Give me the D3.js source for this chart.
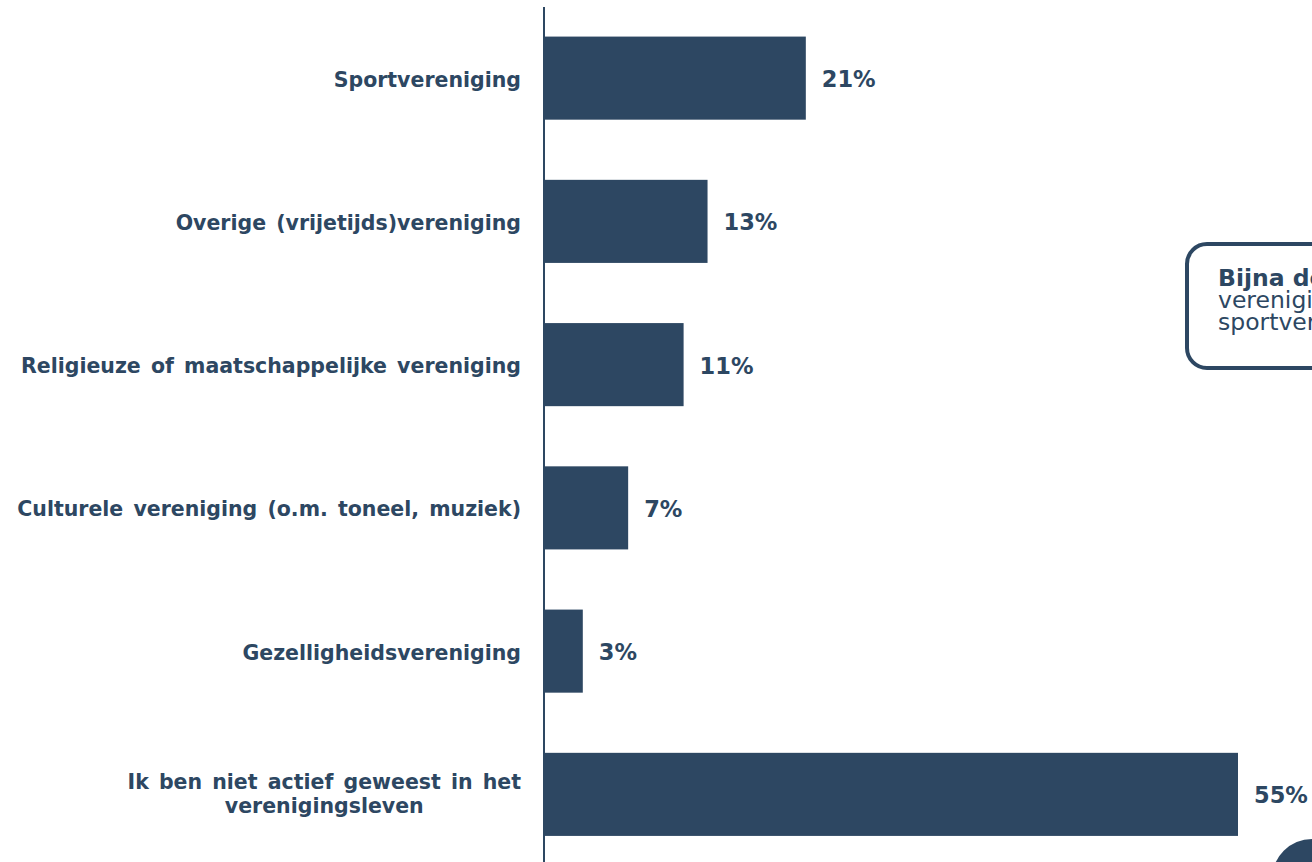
<!DOCTYPE html>
<html>
<head>
<meta charset="utf-8">
<script src="https://cdn.jsdelivr.net/npm/d3@7"></script>
<style>
  html, body { margin: 0; padding: 0; background: #fff; overflow: hidden; }
  svg { display: block; font-family: "DejaVu Sans", Verdana, sans-serif; }
</style>
</head>
<body>
<div id="chart"></div>
<script>
(function () {

    const categories = [
        'Sportvereniging',
        'Overige (vrijetijds)vereniging',
        'Religieuze of maatschappelijke vereniging',
        'Culturele vereniging (o.m. toneel, muziek)',
        'Gezelligheidsvereniging',
        'Ik ben niet actief geweest in het|verenigingsleven'
    ];
    const values = [20.7, 12.9, 11.0, 6.6, 3.0, 55.0];
    const valueLabels = ['21%', '13%', '11%', '7%', '3%', '55%'];
    const calloutBold = 'Bijna de helft';
    const calloutLines = ['verenigingsleven', 'sportvereniging'];

    const color = '#2d4762';
    const W = 1312, H = 862;
    const labelRight = 521;

    const chart = d3.select('#chart')
        .append('svg')
        .attr('width', W)
        .attr('height', H);

    // schalen
    const x = d3.scaleLinear()
        .domain([0, 55])
        .range([545, 1238]);

    const y = d3.scaleBand()
        .domain(categories)
        .range([6.5, 866])
        .paddingInner(0.42)
        .paddingOuter(0.21);

    // balken
    chart.append('g')
        .selectAll('rect')
        .data(values)
        .enter()
        .append('rect')
        .attr('x', x(0))
        .attr('y', (d, i) => y(categories[i]))
        .attr('width', d => x(d) - x(0))
        .attr('height', y.bandwidth())
        .attr('fill', color);

    // as
    chart.append('line')
        .attr('x1', 544).attr('x2', 544)
        .attr('y1', 7).attr('y2', H)
        .attr('stroke', color)
        .attr('stroke-width', 2);

    // categorie labels
    const labels = chart.append('g')
        .selectAll('text')
        .data(categories)
        .enter()
        .append('text')
        .attr('y', d => y(d) + y.bandwidth() / 2)
        .attr('fill', color)
        .style('font-size', '20.5px')
        .style('font-weight', 'bold')
        .style('word-spacing', '3px');

    labels.each(function (d) {
        const parts = d.split('|');
        const el = d3.select(this);
        if (parts.length === 1) {
            el.attr('text-anchor', 'end');
            el.append('tspan').attr('x', labelRight).attr('dy', '0.42em').text(parts[0]);
        } else {
            // twee regels, onderling gecentreerd
            el.attr('text-anchor', 'middle');
            const t1 = el.append('tspan').attr('dy', '-0.25em').text(parts[0]);
            const w = t1.node().getComputedTextLength();
            const cx = labelRight - w / 2;
            t1.attr('x', cx);
            el.append('tspan').attr('x', cx).attr('dy', '1.17em').text(parts[1]);
        }
    });

    // waarden
    chart.append('g')
        .selectAll('text')
        .data(values)
        .enter()
        .append('text')
        .attr('x', d => x(d) + 16)
        .attr('y', (d, i) => y(categories[i]) + y.bandwidth() / 2)
        .attr('dy', '0.4em')
        .attr('fill', color)
        .style('font-size', '22.5px')
        .style('font-weight', 'bold')
        .text((d, i) => valueLabels[i]);

    // callout
    const callout = chart.append('g');
    callout.append('rect')
        .attr('x', 1187).attr('y', 244)
        .attr('width', 400).attr('height', 124)
        .attr('rx', 20)
        .attr('fill', '#fff')
        .attr('stroke', color)
        .attr('stroke-width', 4);
    callout.append('text')
        .attr('x', 1218).attr('y', 286)
        .attr('fill', color)
        .style('font-size', '23.5px')
        .style('font-weight', 'bold')
        .text(calloutBold);
    callout.selectAll('text.line')
        .data(calloutLines)
        .enter()
        .append('text')
        .attr('class', 'line')
        .attr('x', 1218)
        .attr('y', (d, i) => 308 + i * 22)
        .attr('fill', color)
        .style('font-size', '23.5px')
        .text(d => d);

    // paginanummer cirkel
    chart.append('circle')
        .attr('cx', 1312).attr('cy', 879).attr('r', 40)
        .attr('fill', color);

})();
</script>
</body>
</html>
